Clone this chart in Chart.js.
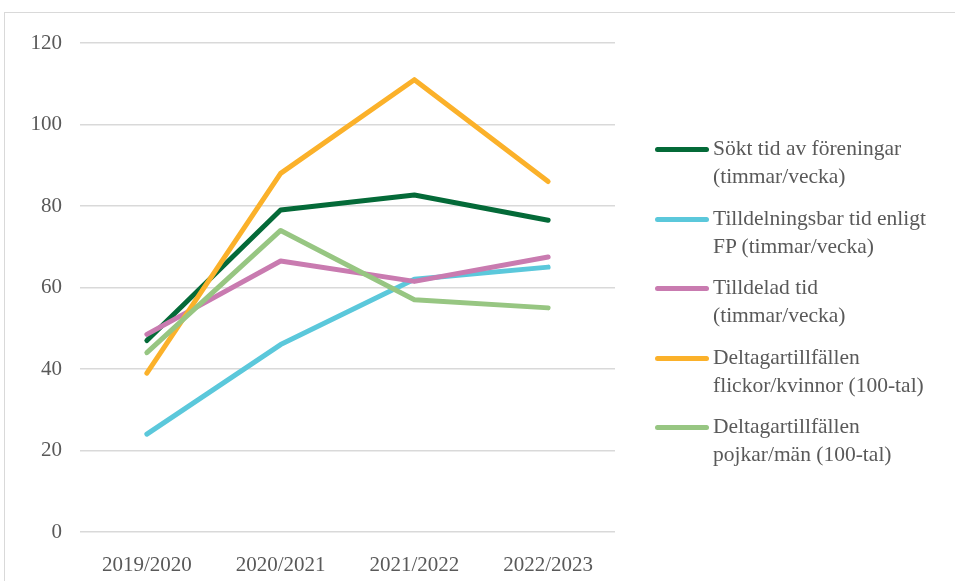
<!DOCTYPE html>
<html>
<head>
<meta charset="utf-8">
<script src="https://cdn.jsdelivr.net/npm/chart.js@4/dist/chart.umd.min.js"></script>
<style>
    html, body { margin: 0; padding: 0; background: #fff; }
    #wrap { position: relative; width: 955px; height: 581px; overflow: hidden; }
    #frame { position: absolute; left: 4px; top: 12px; width: 1000px; height: 700px; border: 1.5px solid #d9d9d9; box-sizing: border-box; }
    #chart { position: absolute; left: 0; top: 0; }
    #legend { position: absolute; left: 655px; top: 134px; font-family: "Liberation Serif", serif; font-size: 21.5px; color: #595959; }
    .item { position: relative; height: 69.5px; padding-left: 58px; line-height: 28px; }
    .swatch { position: absolute; left: 0; top: 13px; width: 54px; height: 5px; border-radius: 3px; }
</style>
</head>
<body>
<div id="wrap">
    <div id="frame"></div>
    <canvas id="chart" width="955" height="581"></canvas>
    <div id="legend"></div>
</div>
<script>
const categories = ['2019/2020', '2020/2021', '2021/2022', '2022/2023'];

const seriesNames = [
    ['Sökt tid av föreningar', '(timmar/vecka)'],
    ['Tilldelningsbar tid enligt', 'FP (timmar/vecka)'],
    ['Tilldelad tid', '(timmar/vecka)'],
    ['Deltagartillfällen', 'flickor/kvinnor (100-tal)'],
    ['Deltagartillfällen', 'pojkar/män (100-tal)']
];

const soktTid = [47, 79, 82.7, 76.5];
const tilldelningsbarTid = [24, 46, 62, 65];
const tilldeladTid = [48.5, 66.5, 61.5, 67.5];
const flickorKvinnor = [39, 88, 111, 86];
const pojkarMan = [44, 74, 57, 55];

const yTicks = [0, 20, 40, 60, 80, 100, 120];

const colors = ['#046a38', '#5bc8db', '#c97bb0', '#fbb12a', '#97c682'];
const allValues = [soktTid, tilldelningsbarTid, tilldeladTid, flickorKvinnor, pojkarMan];

// later series drawn on top, like the original
const datasets = allValues.map((vals, i) => ({
    label: seriesNames[i].join(' '),
    data: vals,
    borderColor: colors[i],
    backgroundColor: colors[i],
    borderWidth: 5,
    borderCapStyle: 'round',
    borderJoinStyle: 'round',
    pointRadius: 0,
    tension: 0,
    fill: false,
    order: 5 - i
}));

const font = { family: '"Liberation Serif", serif', size: 21 };

new Chart(document.getElementById('chart').getContext('2d'), {
    type: 'line',
    data: { labels: categories, datasets: datasets },
    options: {
        responsive: false,
        animation: false,
        layout: { padding: { top: 43, right: 340, bottom: 0, left: 0 } },
        plugins: { legend: { display: false }, tooltip: { enabled: false } },
        scales: {
            x: {
                offset: true,
                grid: { display: false },
                border: { display: false },
                ticks: { color: '#595959', font: font, padding: 13, maxRotation: 0 },
                afterFit: s => { s.height = 49; }
            },
            y: {
                min: 0,
                max: 120,
                afterBuildTicks: s => { s.ticks = yTicks.map(v => ({ value: v })); },
                grid: { color: '#d9d9d9', lineWidth: 1.5, drawTicks: false },
                border: { display: false },
                ticks: { color: '#595959', font: font, padding: 18 },
                afterFit: s => { s.width = 80; }
            }
        }
    }
});

const legend = document.getElementById('legend');
legend.innerHTML = seriesNames.map((lines, i) => `
    <div class="item">
        <span class="swatch" style="background:${colors[i]}"></span>
        ${lines.join('<br>')}
    </div>`).join('');
</script>
</body>
</html>
